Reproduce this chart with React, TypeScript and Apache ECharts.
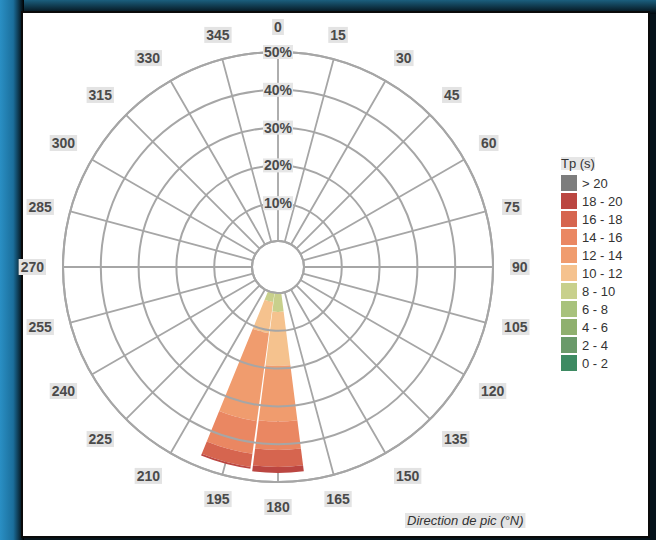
import React, { useEffect, useRef } from "react";
import * as echarts from "echarts";

const DIRECTIONS = [0, 15, 30, 45, 60, 75, 90, 105, 120, 135, 150, 165, 180, 195, 210, 225, 240, 255, 270, 285, 300, 315, 330, 345];
const CLASSES = ["0 - 2", "2 - 4", "4 - 6", "6 - 8", "8 - 10", "10 - 12", "12 - 14", "14 - 16", "16 - 18", "18 - 20", "> 20"];
const COLORS = ["#3d8a62", "#6a9a6a", "#8fb06e", "#a8c27c", "#c8d08c", "#f5c28e", "#f09c6e", "#ea8762", "#d6654f", "#bb4641", "#7d7d7d"];
// frequency (%) per Tp class, for the two loaded directions
const FREQ_180 = [0, 0, 0, 0, 5.0, 14.3, 14.7, 7.5, 4.5, 1.6, 0];
const FREQ_195 = [0, 0, 0, 0, 2.5, 8.3, 23.5, 8.7, 3.5, 0.5, 0];
const RADIUS_MAX = 50;
const RADIUS_STEP = 10;

const FONT = "'Liberation Sans', Arial, sans-serif";

export default function App() {
  const ref = useRef<HTMLDivElement>(null);
  useEffect(() => {
    if (!ref.current) return;
    const chart = echarts.init(ref.current, null, { renderer: "svg" });
    const center = [278, 267];
    const radius = [26, 215];
    const series = CLASSES.map((name, i) => ({
      type: "bar",
      name,
      coordinateSystem: "polar",
      polarIndex: 1,
      stack: "tp",
      barCategoryGap: "4%",
      itemStyle: { color: COLORS[i] },
      data: DIRECTIONS.map((d) => (d === 180 ? FREQ_180[i] : d === 195 ? FREQ_195[i] : 0)),
    }));
    chart.setOption({
      animation: false,
      backgroundColor: "#06141c",
      graphic: [
        {
          type: "rect",
          shape: { x: 0, y: 0, width: 656, height: 14 },
          style: {
            fill: new echarts.graphic.LinearGradient(0, 0, 0, 1, [
              { offset: 0, color: "#1b5f7e" },
              { offset: 1, color: "#020a10" },
            ]),
          },
          z: -10,
        },
        {
          type: "rect",
          shape: { x: 0, y: 0, width: 24, height: 540 },
          style: {
            fill: new echarts.graphic.LinearGradient(0, 0, 1, 0, [
              { offset: 0, color: "#2a8fc4" },
              { offset: 0.55, color: "#1b6f9c" },
              { offset: 1, color: "#000000" },
            ]),
          },
          z: -9,
        },
        {
          type: "rect",
          shape: { x: 22, y: 12, width: 627, height: 525 },
          style: { fill: "#ffffff", stroke: "#0a0a0a", lineWidth: 2 },
          z: -8,
        },
        {
          type: "text",
          x: 561,
          y: 157,
          style: { text: "Tp (s)", fill: "#333", font: `13px ${FONT}`, backgroundColor: "#e6e6e6" },
        },
        {
          type: "text",
          x: 405,
          y: 513,
          style: {
            text: "Direction de pic (°N)",
            fill: "#333",
            font: `italic 13px ${FONT}`,
            backgroundColor: "#e4e4e4",
            padding: [1, 2],
          },
        },
      ],
      polar: [
        { center, radius },
        { center, radius },
      ],
      angleAxis: [
        {
          polarIndex: 0,
          type: "value",
          min: 0,
          max: 360,
          interval: 15,
          startAngle: 90,
          clockwise: true,
          axisLine: { show: true, lineStyle: { color: "#a6a6a6", width: 2 } },
          axisTick: { show: false },
          splitLine: { show: true, lineStyle: { color: "#a6a6a6", width: 1.8 } },
          axisLabel: {
            show: true,
            margin: 17,
            formatter: (v: number) => (v === 360 ? "" : String(v)),
            color: "#4a4a4a",
            fontFamily: FONT,
            fontSize: 14,
            fontWeight: "bold",
            backgroundColor: "#e3e3e3",
            padding: [1, 2],
          },
        },
        {
          polarIndex: 1,
          type: "category",
          data: DIRECTIONS.map(String),
          startAngle: 97.5,
          clockwise: true,
          axisLine: { show: false },
          axisTick: { show: false },
          axisLabel: { show: false },
          splitLine: { show: false },
        },
      ],
      radiusAxis: [
        {
          polarIndex: 0,
          type: "value",
          min: 0,
          max: RADIUS_MAX,
          interval: RADIUS_STEP,
          axisLine: { show: false },
          axisTick: { show: false },
          splitLine: { show: true, lineStyle: { color: "#a6a6a6", width: 2 } },
          axisLabel: {
            show: true,
            margin: 0,
            align: "center",
            verticalAlign: "middle",
            formatter: (v: number) => (v === 0 ? "" : `${v}%`),
            color: "#4a4a4a",
            fontFamily: FONT,
            fontSize: 14,
            fontWeight: "bold",
            backgroundColor: "#e6e6e6",
            padding: [0, 1],
          },
          z: 10,
        },
        {
          polarIndex: 1,
          type: "value",
          min: 0,
          max: RADIUS_MAX,
          axisLine: { show: false },
          axisTick: { show: false },
          axisLabel: { show: false },
          splitLine: { show: false },
        },
      ],
      legend: {
        orient: "vertical",
        left: 561,
        top: 175,
        padding: 0,
        data: [...CLASSES].reverse(),
        icon: "rect",
        itemWidth: 16,
        itemHeight: 16,
        itemGap: 2,
        selectedMode: false,
        textStyle: { fontSize: 13, color: "#333", fontFamily: FONT },
      },
      series,
    });
    return () => chart.dispose();
  }, []);
  return <div ref={ref} style={{ position: "fixed", left: 0, top: 0, width: 656, height: 540 }} />;
}
